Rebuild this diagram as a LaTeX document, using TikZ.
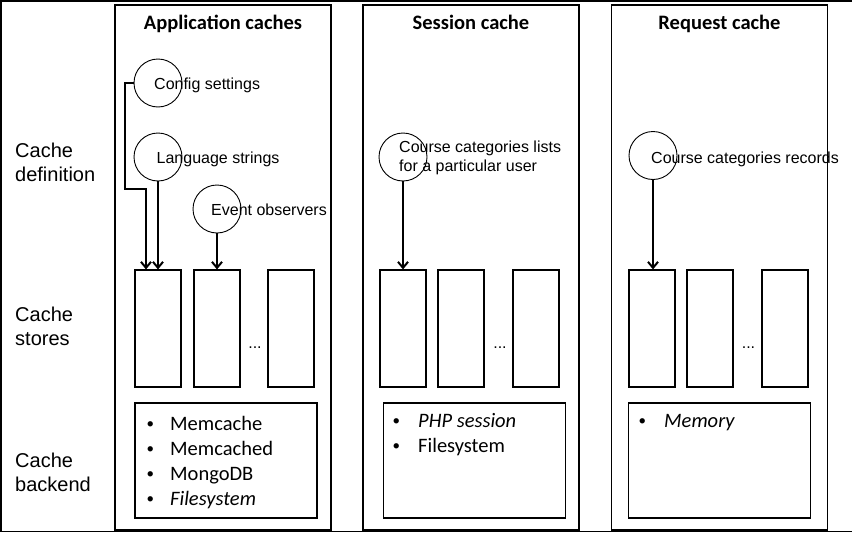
\documentclass[tikz,border=0pt]{standalone}
\usepackage{fontspec}
\setmainfont{Liberation Sans}
\newfontfamily\calib{Carlito}
\usetikzlibrary{arrows.meta,calc}
\newcommand{\smbul}{\raisebox{1.5pt}{\fontsize{15}{15}\selectfont\textbullet}}
\begin{document}
\begin{tikzpicture}[x=1pt,y=-1pt,
  panel/.style={draw=black,line width=1.4pt,minimum width=216pt,minimum height=525pt,inner sep=0pt},
  store/.style={draw=black,line width=1.2pt,minimum width=46pt,minimum height=117pt,inner sep=0pt},
  backbox/.style={draw=black,line width=1.2pt,minimum width=182pt,minimum height=115pt,inner sep=0pt},
  defc/.style={draw=black,line width=0.9pt,circle,minimum size=48pt,inner sep=0pt},
  lbl/.style={font=\fontsize{16}{19}\selectfont,inner sep=0pt,anchor=base west},
  rowlbl/.style={font=\fontsize{20}{24}\selectfont,inner sep=0pt,anchor=base west},
  ttl/.style={font=\calib\bfseries\fontsize{20.5}{24}\selectfont,inner sep=0pt,anchor=base},
  bul/.style={font=\calib\fontsize{20.5}{24}\selectfont,inner sep=0pt,anchor=base west},
  arr/.style={line width=2pt,-{Straight Barb[length=6pt,width=10pt]}},
  dotsty/.style={font=\fontsize{16}{19}\selectfont,inner sep=0pt,anchor=base}]
\useasboundingbox (0,0) rectangle (852,533);
\fill[white] (0,0) rectangle (852,533);
% outer frame
\draw[line width=1.4pt] (853,1) -- (1,1) -- (1,531.5) -- (853,531.5);
% panels
\node[panel] (p1) at (223,267.5) {};
\node[panel] (p2) at (471,267.5) {};
\node[panel] (p3) at (719.5,267.5) {};
% titles
\node[ttl] (t1) at (223,29) {Application caches};
\node[ttl] (t2) at (471,29) {Session cache};
\node[ttl] (t3) at (719.5,29) {Request cache};
% row labels
\node[rowlbl] (r1a) at (15,157.5) {Cache};
\node[rowlbl] (r1b) at (15,181.5) {definition};
\node[rowlbl] (r2a) at (15,321.5) {Cache};
\node[rowlbl] (r2b) at (15,345) {stores};
\node[rowlbl] (r3a) at (15,467) {Cache};
\node[rowlbl] (r3b) at (15,491.5) {backend};
% store boxes
\node[store] (s11) at (158,328.5) {};
\node[store] (s12) at (217,328.5) {};
\node[store] (s13) at (291,328.5) {};
\node[dotsty] (d1) at (255,348.5) {...};
\node[store] (s21) at (403,328.5) {};
\node[store] (s22) at (461,328.5) {};
\node[store] (s23) at (536,328.5) {};
\node[dotsty] (d2) at (500,348.5) {...};
\node[store] (s31) at (652,328.5) {};
\node[store] (s32) at (710,328.5) {};
\node[store] (s33) at (785,328.5) {};
\node[dotsty] (d3) at (748.5,348.5) {...};
% definition circles
\node[defc] (cfg) at (158,83) {};
\node[defc] (lang) at (158,157) {};
\node[defc] (ev) at (217,209) {};
\node[defc] (ccl) at (403,157) {};
\node[defc] (ccr) at (653,155.5) {};
\node[lbl] (cfgt) at (154,89.5) {Config settings};
\node[lbl] (langt) at (156.5,163) {Language strings};
\node[lbl] (evt) at (211,215) {Event observers};
\node[lbl] (cclt1) at (399,152) {Course categories lists};
\node[lbl] (cclt2) at (399,171) {for a particular user};
\node[lbl] (ccrt) at (651,163) {Course categories records};
% arrows
\coordinate (k1) at (125,189);
\coordinate (k2) at (146,189);
\draw[arr] (cfg.west) -| (k1) -- (k2) -- (k2 |- s11.north);
\draw[arr] (lang.south) -- (s11.north);
\draw[arr] (ev.south) -- (s12.north);
\draw[arr] (ccl.south) -- (ccl.south |- s21.north);
\draw[arr] (ccr.south) -- (ccr.south |- s31.north);
% backend boxes
\node[backbox] (b1) at (226,460.5) {};
\node[backbox] (b2) at (474.5,460.5) {};
\node[backbox] (b3) at (719.5,460.5) {};
\node[bul] (m1) at (146.5,430) {\makebox[23.5pt][l]{\smbul}Memcache};
\node[bul] (m2) at (146.5,455) {\makebox[23.5pt][l]{\smbul}Memcached};
\node[bul] (m3) at (146.5,480) {\makebox[23.5pt][l]{\smbul}MongoDB};
\node[bul] (m4) at (146.5,505) {\makebox[23.5pt][l]{\smbul}\itshape Filesystem};
\node[bul] (n1) at (392.5,427) {\makebox[25.5pt][l]{\smbul}\itshape PHP session};
\node[bul] (n2) at (392.5,452) {\makebox[25.5pt][l]{\smbul}Filesystem};
\node[bul] (o1) at (638.5,427) {\makebox[25.5pt][l]{\smbul}\itshape Memory};
\end{tikzpicture}
\end{document}
